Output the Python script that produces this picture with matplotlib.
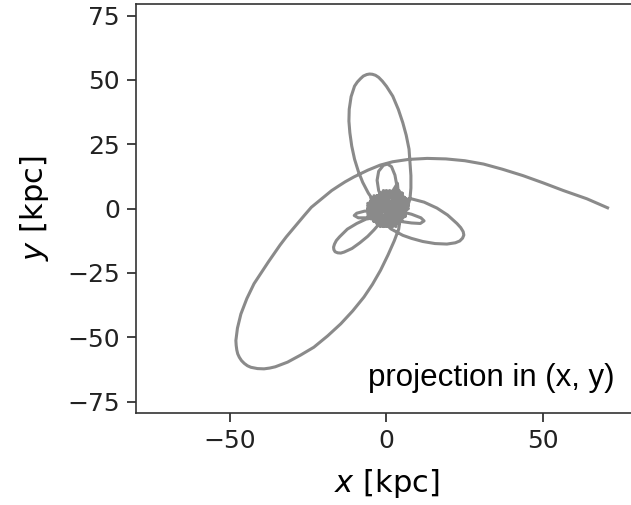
import matplotlib
matplotlib.use('Agg')
import matplotlib.pyplot as plt
import numpy as np

# orbit, in kpc, in path order
# incoming arc from the right, round the big lower-left loop
arc_x = [70.6, 64, 56.5, 50, 43.6, 37, 31, 25, 19, 13, 7, 2, -2, -6, -10.4, -13.2, -15, -17.5, -20, -22,
         -24, -26.2, -28.4, -30.2, -32, -34, -35.9, -37.7, -39.5, -42.3, -44.6, -46.5, -47.6, -48.1, -48.0,
         -47.8, -47.5, -47, -46.3, -45.4, -44.4, -43.3, -41.2, -39.1, -37.3, -35.5, -31.6,
         -27.5, -23.2, -18.8, -14.6, -10.8, -7.2, -4.5, -1.9, 0.5, 2.5, 3.9, 4.5]
arc_y = [0.3, 3.8, 7.0, 10, 12.8, 15.3, 17.3, 18.6, 19.3, 19.5, 19.1, 18.2, 16.9, 14.9, 12.3, 10.4, 9.0, 7, 4.5, 2.5,
         0.5, -2.6, -5.8, -8.4, -11, -14.2, -17.5, -20.7, -24, -29.2, -35, -41, -46.5, -51.3, -53.2,
         -55, -56.5, -57.8, -59.1, -60.2, -61.1, -61.7, -62.2, -62.3, -62, -61.5, -59.7,
         -57, -53.9, -49.5, -44.8, -39.8, -34.4, -29.5, -24, -18, -12.5, -8, -3]

# tall loop towards the top
tall_x = [6.5, 7.5, 7.8, 7.8, 7.5, 7.2, 6.3, 5.2, 3.8, 2, 0, -1.3, -2.5, -3.5, -4.5, -5.4, -6.3, -7.4, -8.3,
          -9.3, -10.2, -11.3, -11.9, -12, -11.7, -11.1, -10.2, -9, -7.6, -5.8, -3.8, -1]
tall_y = [0, 3.7, 8, 12.8, 18, 23.1, 28.5, 33.4, 38.5, 43.7, 47.5, 49.5, 51, 51.8, 52.2, 52.3, 52.1, 51.5, 50.5,
          49.2, 47.6, 43.5, 38.6, 34, 29.5, 24.3, 19.2, 14.5, 10.2, 6, 2.5, 0]

blob1_x = [2, 6, -3, -5, 4, 7, -1, -6, 1, 6, 3, -4, -6, 5, 0, -4, 6, 2, -6, 3, 7, -2, -5, 5]
blob1_y = [6, -2, -6, 3, 7, 1, -7, 0, 7, 4, -6, -5, 2, 6, -7, 5, -1, -6, -2, 7, 3, 6, -4, -5]

# loop to the right
right_x = [2, 7.6, 12, 16.1, 19.5, 22.5, 23.7, 24.5, 24.7, 24.3, 23.4, 22, 19.3, 15.5, 11.6, 8, 5.2, 1.4, -1]
right_y = [2, 3.9, 2.5, 0.2, -2.5, -5.8, -7.4, -9, -10.3, -11.5, -12.6, -13.3, -13.8, -13.6, -12.8, -11.6,
           -10.4, -7.9, -5]

blob2_x = [-5, 5, 6, -2, -4, 2, 7, 0, -5, -3, 5, -6, 1, 6, -1, -4, 4, 2, -6, 0]
blob2_y = [4, 5, -3, -7, 2, 6, 0, -6, -2, 5, 4, 0, -5, 3, 7, -5, -6, 3, -3, 5]

# loop to the lower left
left_x = [-2, -6, -9.5, -12.5, -15, -16, -16.6, -16.9, -16.8, -16.4, -15.6, -14.6, -13.5, -11, -8.5, -6,
          -4, -2]
left_y = [-2, -3.8, -5.8, -8, -11, -12.4, -13.8, -15, -16, -16.8, -17.2, -17.3, -16.9, -15.5, -13.3, -10.8,
          -8.3, -5.5]

blob3_x = [4, -2, -6, 0, 6, 2, -3, 3.5, 4, 5, -1, -5, 3, 6, -3, 1]
blob3_y = [-5, -6, 1, 7, 2, -7, -3, 9.8, 3, -4, -7, 3, 6, -1, 5, -4]

# small inner loop upwards
inner_x = [-1, -2.5, -3, -2.5, -1, 0.3, 1.6, 2.7, 3.3, 3, 1]
inner_y = [3, 7, 11, 14.5, 16.8, 17.3, 16.3, 13, 9, 5, 1]

# small lobe right
lobe_r_x = [4, 8, 11, 12, 10.8, 8, 4.5]
lobe_r_y = [-1, -2.2, -3.6, -4.8, -5.8, -5.6, -5]

blob4_x = [-5, 1, 3, -4, 6, -2, 5, -6, 2]
blob4_y = [-1, 6, 1, 4, -3, -6, 6, -4, -2]

# small lobe left
lobe_l_x = [-3, -7, -9.5, -10.3, -9, -6.5, -3]
lobe_l_y = [-1, -1, -1.8, -2.7, -3.6, -3.6, -2.5]

blob5_x = [2, 5, -2, -4, 4, 0, 6, -5, 3, -1]
blob5_y = [-6, 5, 6, -4, -2, 0, 4, 1, -7, 3]

x = np.concatenate([arc_x, tall_x, blob1_x, right_x, blob2_x, left_x, blob3_x, inner_x,
                    lobe_r_x, blob4_x, lobe_l_x, blob5_x])
y = np.concatenate([arc_y, tall_y, blob1_y, right_y, blob2_y, left_y, blob3_y, inner_y,
                    lobe_r_y, blob4_y, lobe_l_y, blob5_y])

fig = plt.figure(figsize=(6.31, 5.05), dpi=100)
ax = fig.add_axes([0.2155, 0.182, 0.794, 0.81])

ax.plot(x, y, color='#8a8a8a', lw=2.2, solid_joinstyle='round')

ax.set_xlim(-80, 80)
ax.set_ylim(-79.5, 79.5)
ax.set_xticks([-50, 0, 50])
ax.set_yticks([-75, -50, -25, 0, 25, 50, 75])
ax.tick_params(labelsize=18, length=6.5, width=1.2, pad=5, colors='#222222')
for s in ax.spines.values():
    s.set_linewidth(1.2)
    s.set_color('#333333')
ax.spines['right'].set_visible(False)

ax.set_xlabel('$x$ [kpc]', fontsize=22, labelpad=10)
ax.set_ylabel('$y$ [kpc]', fontsize=22, labelpad=12)

ax.text(72.9, -68.8, 'projection in (x, y)', fontsize=22.5, family='Liberation Sans',
        ha='right', va='baseline')

fig.savefig('out.png', dpi=100)
